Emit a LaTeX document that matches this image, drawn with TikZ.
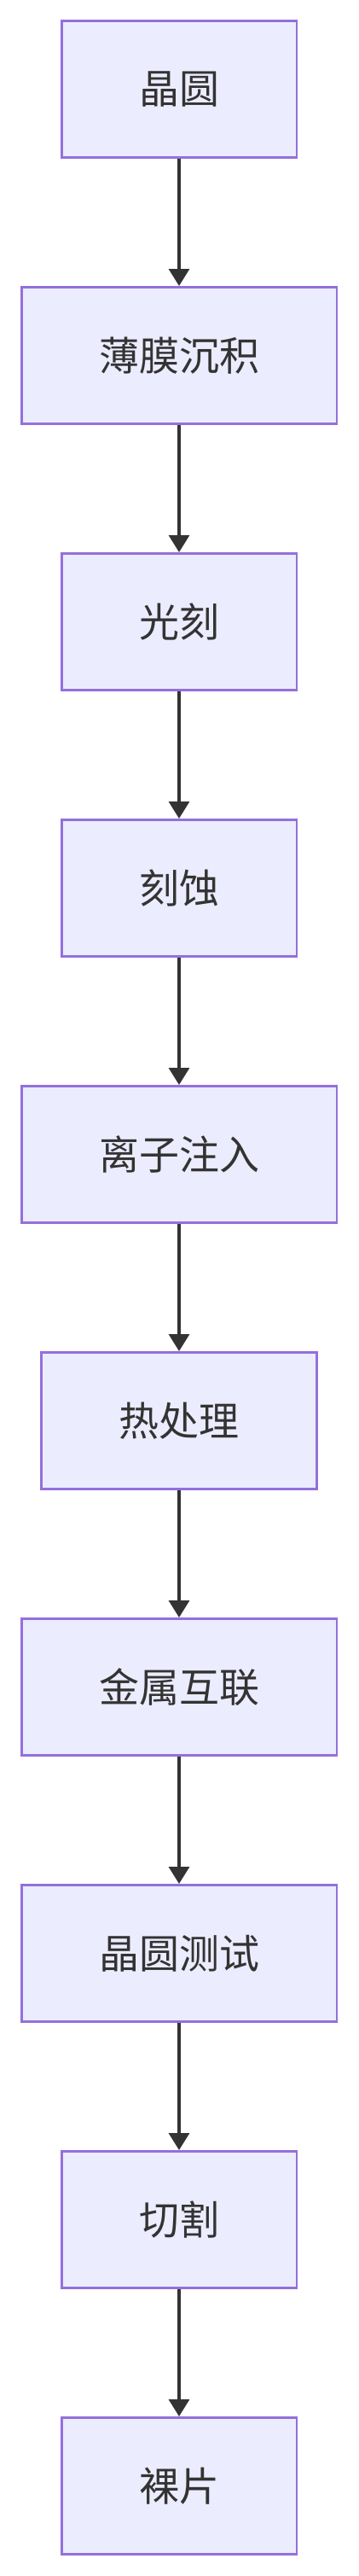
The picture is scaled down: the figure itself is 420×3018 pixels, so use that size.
\documentclass[tikz,border=0pt]{standalone}
\usepackage{fontspec}
\setmainfont{Noto Sans CJK SC}
\usepackage{tikz}
\usetikzlibrary{arrows.meta, positioning}
\definecolor{stepFill}{HTML}{ECECFF}
\definecolor{stepLine}{HTML}{9370DB}
\definecolor{inkGray}{HTML}{333333}

\begin{document}
\begin{tikzpicture}[x=0.5pt, y=-0.5pt,
  box/.style={rectangle, draw=stepLine, fill=stepFill, line width=1.3pt,
              minimum height=80.2pt, inner xsep=45.4pt,
              font=\fontsize{23.5}{28}\selectfont, text=inkGray},
  arr/.style={-{Triangle[width=12pt, length=10pt]}, draw=inkGray, line width=1.6pt}
]
\useasboundingbox (0,0) rectangle (420,3018);
\node[box] (wafer) at (210,104.5) {晶圆};
\node[box, below=74.5pt of wafer] (film) {薄膜沉积};
\node[box, below=74.5pt of film] (litho) {光刻};
\node[box, below=74.5pt of litho] (etch) {刻蚀};
\node[box, below=74.5pt of etch] (implant) {离子注入};
\node[box, below=74.5pt of implant] (anneal) {热处理};
\node[box, below=74.5pt of anneal] (metal) {金属互联};
\node[box, below=74.5pt of metal] (probe) {晶圆测试};
\node[box, below=74.5pt of probe] (dicing) {切割};
\node[box, below=74.5pt of dicing] (die) {裸片};
\draw[arr] (wafer) -- (film);
\draw[arr] (film) -- (litho);
\draw[arr] (litho) -- (etch);
\draw[arr] (etch) -- (implant);
\draw[arr] (implant) -- (anneal);
\draw[arr] (anneal) -- (metal);
\draw[arr] (metal) -- (probe);
\draw[arr] (probe) -- (dicing);
\draw[arr] (dicing) -- (die);
\end{tikzpicture}
\end{document}
